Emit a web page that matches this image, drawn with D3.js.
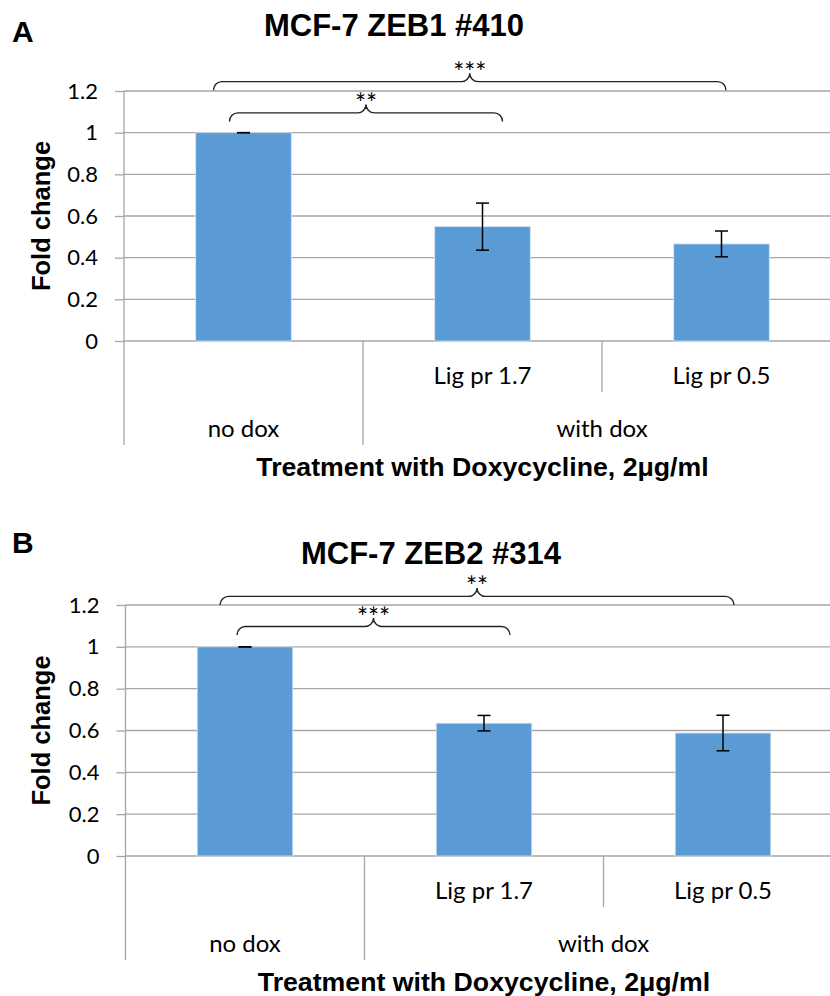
<!DOCTYPE html>
<html>
<head>
<meta charset="utf-8">
<script src="https://cdn.jsdelivr.net/npm/d3@7"></script>
<style>
  html, body { margin: 0; padding: 0; background: #fff; }
  svg { display: block; }
</style>
</head>
<body>
<svg id="chart" width="830" height="996"></svg>
<script>
// ---------- DATA ----------
const categories = ["no dox", "Lig pr 1.7", "Lig pr 0.5"];
const subLabels = ["", "Lig pr 1.7", "Lig pr 0.5"];
const groupLabels = ["no dox", "with dox"];
const groupSpans = [[0, 0], [1, 2]];

const yTicks = [0, 0.2, 0.4, 0.6, 0.8, 1, 1.2];
const yTickLabels = ["0", "0.2", "0.4", "0.6", "0.8", "1", "1.2"];

const panelLetters = ["A", "B"];
const panelTitles = ["MCF-7 ZEB1 #410", "MCF-7 ZEB2 #314"];

const valuesA = [1.0, 0.549, 0.466];
const errorsA = [0.0, 0.113, 0.062];
const valuesB = [1.0, 0.635, 0.588];
const errorsB = [0.0, 0.037, 0.085];

const bracketsA = [{ from: 0, to: 2, label: "***" }, { from: 0, to: 1, label: "**" }];
const bracketsB = [{ from: 0, to: 2, label: "**" }, { from: 0, to: 1, label: "***" }];

const yTitle = "Fold change";
const xTitle = "Treatment with Doxycycline, 2\u03bcg/ml";

// ---------- LAYOUT ----------
const panels = [
  { letter: panelLetters[0], title: panelTitles[0], values: valuesA, errors: errorsA, brackets: bracketsA,
    top: 91, bottom: 341, left: 124, titleX: 394, titleY: 36, letterY: 42,
    bracketGeom: [{ dl: -30, dr: 4.5, level: 1.245 }, { dl: -14, dr: 20, level: 1.095 }] },
  { letter: panelLetters[1], title: panelTitles[1], values: valuesB, errors: errorsB, brackets: bracketsB,
    top: 605, bottom: 856, left: 125.5, titleX: 431, titleY: 564, letterY: 553,
    bracketGeom: [{ dl: -25, dr: 11, level: 1.241 }, { dl: -8, dr: 26, level: 1.097 }] }
];

const plotW = 717;
const gridColor = "#a6a6a6";
const barColor = "#5b9bd5";
const tickFont = "Lato, 'Open Sans', sans-serif";
const boldFont = "'Liberation Sans', Arial, sans-serif";

const svg = d3.select("#chart");

panels.forEach(p => {
  const g = svg.append("g");
  const x = d3.scaleBand().domain(categories)
    .range([p.left, p.left + plotW]).paddingInner(0.6).paddingOuter(0.3);
  const step = x.step();
  const y = d3.scaleLinear().domain([0, 1.2]).range([p.bottom, p.top]);

  // gridlines
  g.append("g").selectAll("line").data(yTicks).join("line")
    .attr("x1", p.left).attr("x2", p.left + plotW)
    .attr("y1", d => y(d)).attr("y2", d => y(d))
    .attr("stroke", gridColor).attr("stroke-width", 1.3);

  // y axis
  const yAxis = g.append("g").attr("transform", `translate(${p.left},0)`)
    .call(d3.axisLeft(y).tickValues(yTicks).tickFormat((d, i) => yTickLabels[i])
      .tickSize(9).tickSizeOuter(0).tickPadding(17));
  yAxis.select(".domain").remove();
  yAxis.selectAll(".tick line").attr("stroke", gridColor).attr("stroke-width", 1.3);
  yAxis.selectAll(".tick text").attr("font-family", tickFont).attr("font-size", 22).attr("fill", "#000");

  // axis verticals (left axis + category dividers)
  const axisBottom = p.bottom + 104;
  g.append("line").attr("x1", p.left).attr("x2", p.left)
    .attr("y1", p.top).attr("y2", axisBottom)
    .attr("stroke", gridColor).attr("stroke-width", 1.3);
  categories.forEach((c, i) => {
    if (i === 0) return;
    const isGroupEdge = groupSpans.some(s => s[0] === i);
    const xx = x(c) - step * x.paddingInner() / 2;
    g.append("line").attr("x1", xx).attr("x2", xx)
      .attr("y1", p.bottom).attr("y2", isGroupEdge ? axisBottom : p.bottom + 51)
      .attr("stroke", gridColor).attr("stroke-width", 1.3);
  });

  // bars
  g.append("g").selectAll("rect").data(p.values).join("rect")
    .attr("x", (d, i) => x(categories[i]))
    .attr("width", x.bandwidth())
    .attr("y", d => y(d))
    .attr("height", d => y(0) - y(d))
    .attr("fill", barColor)
    .attr("stroke", "#d6e6f5").attr("stroke-width", 0.8);

  // error bars
  const eg = g.append("g").attr("stroke", "#000").attr("stroke-width", 1.5);
  p.values.forEach((v, i) => {
    const cx = x(categories[i]) + x.bandwidth() / 2;
    const e = p.errors[i];
    eg.append("line").attr("x1", cx).attr("x2", cx).attr("y1", y(v + e)).attr("y2", y(v - e));
    [v + e, v - e].forEach(t => {
      eg.append("line").attr("x1", cx - 6.5).attr("x2", cx + 6.5).attr("y1", y(t)).attr("y2", y(t));
    });
  });

  // category labels
  g.append("g").selectAll("text").data(subLabels).join("text")
    .attr("x", (d, i) => x(categories[i]) + x.bandwidth() / 2)
    .attr("y", p.bottom + 43)
    .attr("text-anchor", "middle")
    .attr("font-family", tickFont).attr("font-size", 24)
    .text(d => d);

  // group labels
  g.append("g").selectAll("text").data(groupLabels).join("text")
    .attr("x", (d, i) => {
      const s = groupSpans[i];
      const l = x(categories[s[0]]) - step * x.paddingInner() / 2;
      const r = x(categories[s[1]]) + x.bandwidth() + step * x.paddingInner() / 2;
      return (l + r) / 2;
    })
    .attr("y", p.bottom + 96)
    .attr("text-anchor", "middle")
    .attr("font-family", tickFont).attr("font-size", 24)
    .text(d => d);

  // brackets
  p.brackets.forEach((b, k) => {
    const geo = p.bracketGeom[k];
    const c0 = x(categories[b.from]) + x.bandwidth() / 2;
    const c1 = x(categories[b.to]) + x.bandwidth() / 2;
    const x0 = c0 + geo.dl, x1 = c1 + geo.dr;
    const yH = y(geo.level);
    const r = 8.5, rp = 8.5;
    const xc = (x0 + x1) / 2;
    const path = `M${x0},${yH + r} A${r},${r} 0 0 1 ${x0 + r},${yH}` +
      ` L${xc - rp},${yH} A${rp},${rp} 0 0 0 ${xc},${yH - rp}` +
      ` A${rp},${rp} 0 0 0 ${xc + rp},${yH}` +
      ` L${x1 - r},${yH} A${r},${r} 0 0 1 ${x1},${yH + r}`;
    g.append("path").attr("d", path).attr("fill", "none")
      .attr("stroke", "#222").attr("stroke-width", 1.4);
    g.append("text").attr("x", xc).attr("y", yH - rp + 8.5)
      .attr("text-anchor", "middle")
      .attr("font-family", tickFont).attr("font-size", 26)
      .text(b.label);
  });

  // titles
  g.append("text").attr("x", p.titleX).attr("y", p.titleY)
    .attr("text-anchor", "middle").attr("font-family", boldFont)
    .attr("font-weight", "bold").attr("font-size", 31).text(p.title);
  g.append("text").attr("x", 12).attr("y", p.letterY)
    .attr("font-family", boldFont).attr("font-weight", "bold").attr("font-size", 30)
    .text(p.letter);

  // axis titles
  g.append("text")
    .attr("transform", `translate(50,${(p.top + p.bottom) / 2}) rotate(-90)`)
    .attr("text-anchor", "middle").attr("font-family", boldFont)
    .attr("font-weight", "bold").attr("font-size", 25.5).text(yTitle);
  g.append("text").attr("x", p.left + plotW / 2).attr("y", p.bottom + 135)
    .attr("text-anchor", "middle").attr("font-family", boldFont)
    .attr("font-weight", "bold").attr("font-size", 26.7).text(xTitle);
});
</script>
</body>
</html>
